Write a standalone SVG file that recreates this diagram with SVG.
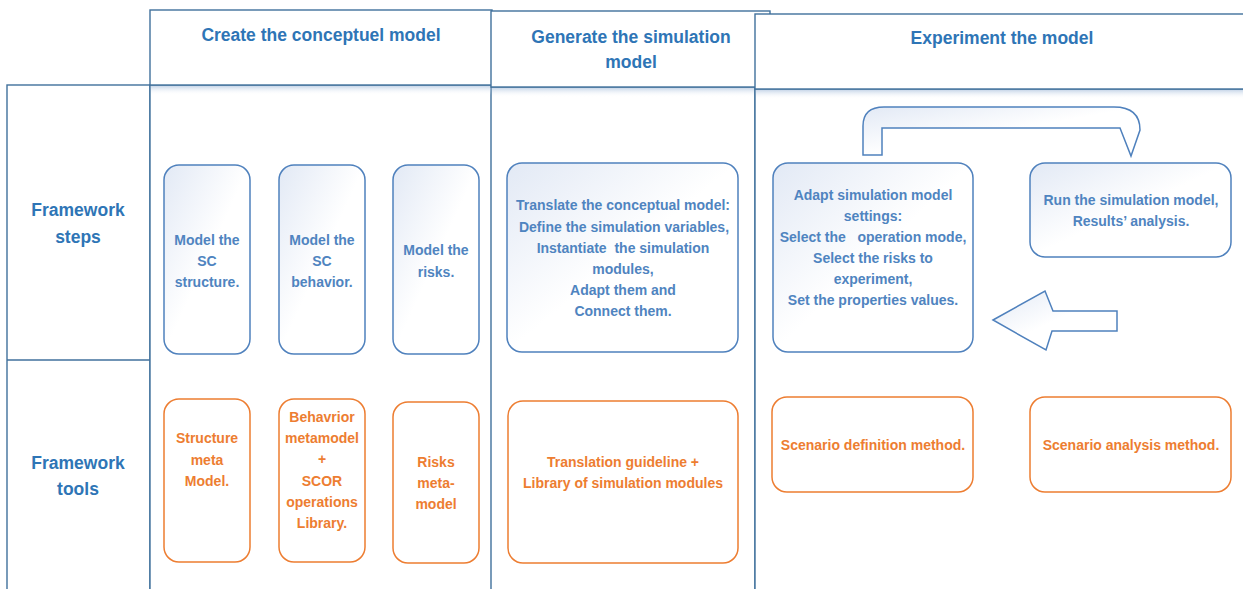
<svg xmlns="http://www.w3.org/2000/svg" width="1243" height="589" viewBox="0 0 1243 589">
<style>
.frame{fill:#fff;stroke:#41719C;stroke-width:1.4}
.line{fill:none;stroke:#41719C;stroke-width:1.4}
.hdr{font-family:"Liberation Sans",Arial,sans-serif;font-weight:bold;font-size:17.5px;fill:#2E75B6;text-anchor:middle}
.step{fill:url(#gb);stroke:#4F81BD;stroke-width:1.5}
.tool{fill:#fff;stroke:#ED7D31;stroke-width:1.5}
.st{font-family:"Liberation Sans",Arial,sans-serif;font-weight:bold;font-size:14px;fill:#4F84C0;text-anchor:middle}
.tt{font-family:"Liberation Sans",Arial,sans-serif;font-weight:bold;font-size:14px;fill:#ED7D31;text-anchor:middle}
.arrow{fill:url(#gb);stroke:#4F81BD;stroke-width:1.5;stroke-linejoin:miter}
</style>
<defs>
<linearGradient id="gb" x1="0" y1="0" x2="1" y2="1">
<stop offset="0" stop-color="#E2E9F5"/>
<stop offset="0.5" stop-color="#FFFFFF"/>
</linearGradient>
<linearGradient id="sh" x1="0" y1="0" x2="0" y2="1">
<stop offset="0" stop-color="#9DB7D8" stop-opacity="0.55"/>
<stop offset="1" stop-color="#FFFFFF" stop-opacity="0"/>
</linearGradient>
</defs>
<rect width="1243" height="589" fill="#fff"/>

<g id="frames">
<rect class="frame" x="7" y="85" width="143" height="520"/>
<line class="line" x1="7" y1="360" x2="150" y2="360"/>
<rect class="frame" x="150" y="85" width="342" height="520"/>
<rect class="frame" x="491" y="87" width="264" height="520"/>
<rect class="frame" x="755" y="89" width="500" height="520"/>
<rect fill="url(#sh)" x="151" y="86" width="340" height="9"/>
<rect fill="url(#sh)" x="492" y="88" width="262" height="9"/>
<rect fill="url(#sh)" x="756" y="90" width="490" height="9"/>
</g>

<g id="header-conceptual">
<rect class="frame" x="150" y="10" width="342" height="75"/>
<text class="hdr" x="321" y="41">Create the conceptuel model</text>
</g>
<g id="header-simulation">
<rect class="frame" x="491" y="11" width="279" height="76"/>
<text class="hdr" x="631" y="43">Generate the simulation</text>
<text class="hdr" x="631" y="68">model</text>
</g>
<g id="header-experiment">
<rect class="frame" x="755" y="14" width="500" height="75"/>
<text class="hdr" x="1002" y="44">Experiment the model</text>
</g>

<g id="label-steps">
<text class="hdr" x="78" y="216">Framework</text>
<text class="hdr" x="78" y="243">steps</text>
</g>
<g id="label-tools">
<text class="hdr" x="78" y="469">Framework</text>
<text class="hdr" x="78" y="495">tools</text>
</g>

<g id="step-structure">
<rect class="step" x="164" y="165" width="86" height="189" rx="15"/>
<text class="st" x="207" y="245">Model the</text>
<text class="st" x="207" y="266">SC</text>
<text class="st" x="207" y="287">structure.</text>
</g>
<g id="step-behavior">
<rect class="step" x="279" y="165" width="86" height="189" rx="15"/>
<text class="st" x="322" y="245">Model the</text>
<text class="st" x="322" y="266">SC</text>
<text class="st" x="322" y="287">behavior.</text>
</g>
<g id="step-risks">
<rect class="step" x="393" y="165" width="86" height="189" rx="15"/>
<text class="st" x="436" y="255">Model the</text>
<text class="st" x="436" y="277">risks.</text>
</g>
<g id="step-translate">
<rect class="step" x="507" y="163" width="231" height="189" rx="15"/>
<text class="st" x="623" y="210">Translate the conceptual model:</text>
<text class="st" x="624" y="232">Define the simulation variables,</text>
<text class="st" x="623" y="253" xml:space="preserve">Instantiate  the simulation</text>
<text class="st" x="623" y="274">modules,</text>
<text class="st" x="623" y="295">Adapt them and</text>
<text class="st" x="623" y="316">Connect them.</text>
</g>
<g id="step-adapt">
<rect class="step" x="773" y="163" width="200" height="189" rx="15"/>
<text class="st" x="873" y="200">Adapt simulation model</text>
<text class="st" x="873" y="221">settings:</text>
<text class="st" x="873" y="242" xml:space="preserve">Select the   operation mode,</text>
<text class="st" x="873" y="263">Select the risks to</text>
<text class="st" x="873" y="284">experiment,</text>
<text class="st" x="873" y="305">Set the properties values.</text>
</g>
<g id="step-run">
<rect class="step" x="1030" y="163" width="201" height="94" rx="15"/>
<text class="st" x="1131" y="205">Run the simulation model,</text>
<text class="st" x="1131" y="226">Results’ analysis.</text>
</g>

<g id="connectors">
<path class="arrow" d="M863 155 L863 126 Q863 107 884 107 L1114 107 Q1140 107 1140 130 L1131 156 L1120 128 L882 128 L882 155 Z"/>
<path class="arrow" d="M993 320 L1045 291 L1053 311 L1117 311 L1117 331 L1052 331 L1046 350 Z"/>
</g>

<g id="tool-structure">
<rect class="tool" x="164" y="399" width="86" height="163" rx="15"/>
<text class="tt" x="207" y="443">Structure</text>
<text class="tt" x="207" y="465">meta</text>
<text class="tt" x="207" y="486">Model.</text>
</g>
<g id="tool-behavior">
<rect class="tool" x="279" y="399" width="86" height="163" rx="15"/>
<text class="tt" x="322" y="422">Behavrior</text>
<text class="tt" x="322" y="443">metamodel</text>
<text class="tt" x="322" y="464">+</text>
<text class="tt" x="322" y="486">SCOR</text>
<text class="tt" x="322" y="507">operations</text>
<text class="tt" x="322" y="528">Library.</text>
</g>
<g id="tool-risks">
<rect class="tool" x="393" y="402" width="86" height="161" rx="15"/>
<text class="tt" x="436" y="467">Risks</text>
<text class="tt" x="436" y="488">meta-</text>
<text class="tt" x="436" y="509">model</text>
</g>
<g id="tool-translation">
<rect class="tool" x="508" y="401" width="230" height="162" rx="15"/>
<text class="tt" x="623" y="467">Translation guideline +</text>
<text class="tt" x="623" y="488">Library of simulation modules</text>
</g>
<g id="tool-scenario-def">
<rect class="tool" x="772" y="397" width="201" height="95" rx="15"/>
<text class="tt" x="873" y="450">Scenario definition method.</text>
</g>
<g id="tool-scenario-analysis">
<rect class="tool" x="1030" y="397" width="201" height="95" rx="15"/>
<text class="tt" x="1131" y="450">Scenario analysis method.</text>
</g>
</svg>
